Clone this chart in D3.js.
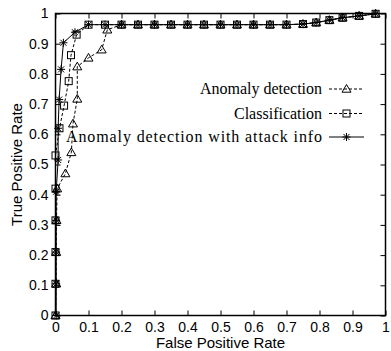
<!DOCTYPE html>
<html>
<head>
<meta charset="utf-8">
<script src="https://cdn.jsdelivr.net/npm/d3@7"></script>
<style>
  body { margin: 0; background: #fff; }
  svg { display: block; }
</style>
</head>
<body>
<div class="container"></div>
<script>
// shared plateau of all three curves
const tailFpr = [0.2, 0.25, 0.3, 0.35, 0.4, 0.45, 0.5, 0.55, 0.6, 0.65, 0.7, 0.75, 0.79, 0.83, 0.87, 0.92, 0.97]
const tailTpr = [0.963, 0.963, 0.963, 0.963, 0.963, 0.963, 0.963, 0.963, 0.963, 0.963, 0.963, 0.965, 0.97, 0.978, 0.986, 0.992, 0.999]

const anomalyFpr = [0, 0.002, 0.002, 0.003, 0.005, 0.03, 0.048, 0.053, 0.066, 0.066, 0.1, 0.14, 0.157].concat(tailFpr)
const anomalyTpr = [0, 0.105, 0.21, 0.315, 0.42, 0.47, 0.54, 0.635, 0.717, 0.824, 0.853, 0.88, 0.946].concat(tailTpr)

const classFpr = [0, 0, 0, 0, 0, 0, 0.012, 0.026, 0.04, 0.047, 0.064, 0.1, 0.15].concat(tailFpr)
const classTpr = [0, 0.105, 0.21, 0.315, 0.42, 0.53, 0.62, 0.695, 0.776, 0.862, 0.93, 0.963, 0.963].concat(tailTpr)

const attackFpr = [0.002, 0.002, 0.002, 0.002, 0.002, 0.008, 0.008, 0.011, 0.017, 0.024, 0.059, 0.1, 0.15].concat(tailFpr)
const attackTpr = [0, 0.105, 0.21, 0.315, 0.41, 0.515, 0.62, 0.715, 0.815, 0.903, 0.938, 0.963, 0.963].concat(tailTpr)

const seriesNames = ["Anomaly detection", "Classification", "Anomaly detection with attack info"]
const tickValues = [0, 0.1, 0.2, 0.3, 0.4, 0.5, 0.6, 0.7, 0.8, 0.9, 1]

const w = 391
const h = 351
const plotLeft = 55.5
const plotRight = 385.5
const plotTop = 13.5
const plotBottom = 315.5

const series = [
  { name: seriesNames[0], fpr: anomalyFpr, tpr: anomalyTpr, marker: "triangle", dash: "3,2", textW: 122 },
  { name: seriesNames[1], fpr: classFpr, tpr: classTpr, marker: "square", dash: "3,2", textW: 88 },
  { name: seriesNames[2], fpr: attackFpr, tpr: attackTpr, marker: "star", dash: null, textW: 256 }
]

const xScale = d3.scaleLinear().domain([0, 1]).range([plotLeft, plotRight])
const yScale = d3.scaleLinear().domain([0, 1]).range([plotBottom, plotTop])
const fmt = d3.format("~g")

const svg = d3.select(".container")
  .append("svg")
  .attr("width", w)
  .attr("height", h)

const axisFont = "'Liberation Sans', Arial, sans-serif"

// axes with inward ticks
const xAxis = d3.axisBottom(xScale).tickValues(tickValues).tickSize(-5).tickPadding(7).tickFormat(fmt)
const yAxis = d3.axisLeft(yScale).tickValues(tickValues).tickSize(-5).tickPadding(7).tickFormat(fmt)

svg.append("g").attr("transform", "translate(0," + plotBottom + ")").call(xAxis)
svg.append("g").attr("transform", "translate(" + plotLeft + ",0)").call(yAxis)
svg.append("g").attr("transform", "translate(0," + plotTop + ")")
  .call(d3.axisTop(xScale).tickValues(tickValues).tickSize(-5).tickFormat(""))
svg.append("g").attr("transform", "translate(" + plotRight + ",0)")
  .call(d3.axisRight(yScale).tickValues(tickValues).tickSize(-5).tickFormat(""))

svg.selectAll(".domain").remove()
svg.selectAll(".tick line").attr("stroke", "#000").attr("stroke-width", 1)
svg.selectAll(".tick text")
  .style("font-family", axisFont)
  .style("font-size", "14px")
  .attr("fill", "#000")

// frame
svg.append("rect")
  .attr("x", plotLeft).attr("y", plotTop)
  .attr("width", plotRight - plotLeft).attr("height", plotBottom - plotTop)
  .attr("fill", "none")
  .attr("stroke", "#000")
  .attr("stroke-width", 1.5)

// markers
const drawMarker = (g, type, x, y) => {
  if (type === "triangle") {
    g.append("path")
      .attr("d", `M${x},${y - 4.5}L${x + 4.5},${y + 3.2}L${x - 4.5},${y + 3.2}Z`)
      .attr("fill", "none").attr("stroke", "#000").attr("stroke-width", 1)
  } else if (type === "square") {
    g.append("rect")
      .attr("x", x - 3.5).attr("y", y - 3.5).attr("width", 7).attr("height", 7)
      .attr("fill", "none").attr("stroke", "#000").attr("stroke-width", 1)
  } else {
    const r = 4
    const d = r * 0.75
    g.append("path")
      .attr("d", `M${x - r},${y}L${x + r},${y}M${x},${y - r}L${x},${y + r}M${x - d},${y - d}L${x + d},${y + d}M${x - d},${y + d}L${x + d},${y - d}`)
      .attr("fill", "none").attr("stroke", "#000").attr("stroke-width", 1)
  }
}

const line = d3.line().x(d => xScale(d[0])).y(d => yScale(d[1]))

series.forEach(s => {
  const pts = s.fpr.map((f, i) => [f, s.tpr[i]])
  svg.append("path")
    .datum(pts)
    .attr("d", line)
    .attr("fill", "none")
    .attr("stroke", "#000")
    .attr("stroke-width", 1)
    .attr("stroke-dasharray", s.dash)
  const g = svg.append("g")
  pts.forEach(p => drawMarker(g, s.marker, xScale(p[0]), yScale(p[1])))
})

// legend
const legendY = [89, 113.5, 137]
series.forEach((s, i) => {
  const y = legendY[i]
  svg.append("text")
    .attr("x", 322)
    .attr("y", y + 5)
    .attr("text-anchor", "end")
    .attr("textLength", s.textW)
    .attr("lengthAdjust", "spacing")
    .style("font-family", "'Liberation Serif', 'Times New Roman', serif")
    .style("font-size", "16px")
    .text(s.name)
  svg.append("line")
    .attr("x1", 329).attr("x2", 364)
    .attr("y1", y).attr("y2", y)
    .attr("stroke", "#000")
    .attr("stroke-width", 1)
    .attr("stroke-dasharray", s.dash)
  drawMarker(svg, s.marker, 346.5, y)
})

// axis titles
svg.append("text")
  .attr("x", (plotLeft + plotRight) / 2)
  .attr("y", 348)
  .style("text-anchor", "middle")
  .style("font-family", axisFont)
  .style("font-size", "15px")
  .text("False Positive Rate")

svg.append("text")
  .attr("transform", "rotate(-90)")
  .attr("x", -(plotTop + plotBottom) / 2)
  .attr("y", 22)
  .style("text-anchor", "middle")
  .style("font-family", axisFont)
  .style("font-size", "15px")
  .text("True Positive Rate")
</script>
</body>
</html>
